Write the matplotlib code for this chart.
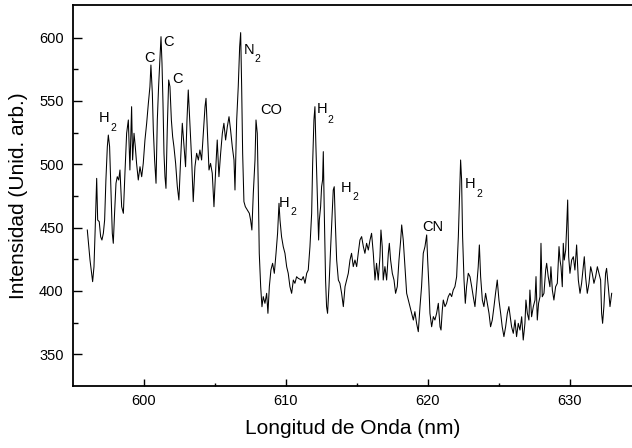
import matplotlib
matplotlib.use("Agg")
import matplotlib.pyplot as plt
from matplotlib.ticker import FixedLocator

plt.rcParams['font.family'] = ['Liberation Sans', 'DejaVu Sans']

# Spectrum: wavelength (nm) and intensity (arb. units)
wavelength = [
    596.01, 596.20, 596.31, 596.385, 596.48, 596.57, 596.67, 596.74, 596.85, 596.95,
    597.04, 597.14, 597.23, 597.32, 597.42, 597.49, 597.58, 597.68, 597.77, 597.84,
    597.93, 598.03, 598.12, 598.22, 598.31, 598.43, 598.55, 598.66, 598.78, 598.90,
    599.01, 599.13, 599.20, 599.30, 599.39, 599.48, 599.60, 599.72, 599.84, 599.95,
    600.07, 600.19, 600.31, 600.42, 600.49, 600.59, 600.66, 600.75, 600.85, 600.94,
    601.03, 601.13, 601.20, 601.27, 601.34, 601.41, 601.48, 601.55, 601.64, 601.74,
    601.83, 601.93, 602.02, 602.11, 602.23, 602.35, 602.46, 602.58, 602.70, 602.82,
    602.93, 603.03, 603.12,
    603.36, 603.47, 603.59, 603.71, 603.83, 603.94, 604.06, 604.18, 604.30, 604.37,
    604.46, 604.58, 604.69, 604.81, 604.93, 605.05, 605.16, 605.28, 605.40, 605.52,
    605.63, 605.75, 605.87, 605.99, 606.10, 606.22, 606.34, 606.41, 606.53, 606.64,
    606.74, 606.81, 606.88, 606.95, 607.04, 607.14, 607.28, 607.42, 607.51, 607.60,
    607.70, 607.82, 607.89, 607.98, 608.05, 608.12, 608.22, 608.31, 608.40, 608.52,
    608.64, 608.73, 608.83, 608.94, 609.06, 609.18, 609.30, 609.41, 609.51, 609.58,
    609.69, 609.81, 609.93, 610.05, 610.16, 610.28, 610.40, 610.52, 610.63, 610.75,
    610.87,
    611.10, 611.22, 611.34, 611.46, 611.57, 611.69, 611.81, 611.88, 611.97, 612.04,
    612.11, 612.21, 612.30, 612.35, 612.44, 612.51, 612.58, 612.63, 612.70, 612.79,
    612.86, 612.93, 613.03, 613.15, 613.26, 613.33, 613.40, 613.47, 613.57, 613.69,
    613.80, 613.92, 614.04, 614.16, 614.27, 614.39, 614.51, 614.62, 614.74, 614.86,
    614.98, 615.09, 615.21, 615.33, 615.45, 615.56, 615.68, 615.80, 615.92, 616.03,
    616.15, 616.27, 616.38, 616.50, 616.62, 616.69, 616.78, 616.85, 616.97, 617.09,
    617.21, 617.28, 617.37, 617.49, 617.61, 617.72, 617.84, 617.96, 618.08, 618.15,
    618.26, 618.38, 618.50, 618.62,
    618.97, 619.08, 619.20, 619.32, 619.44, 619.55, 619.67, 619.79, 619.91, 619.98,
    620.07, 620.14, 620.26, 620.38, 620.49, 620.61, 620.73, 620.85, 620.92, 621.01,
    621.08, 621.20, 621.31, 621.43, 621.55, 621.67, 621.78, 621.90, 622.02, 622.14,
    622.21, 622.30, 622.37, 622.44, 622.54, 622.63, 622.72, 622.84, 622.96, 623.08,
    623.19, 623.31, 623.43, 623.54, 623.62, 623.71, 623.83, 623.94, 624.06, 624.18,
    624.30, 624.41, 624.53, 624.65, 624.76, 624.88, 625.00, 625.12, 625.23, 625.35,
    625.47, 625.59, 625.70,
    625.89, 626.01, 626.13, 626.24, 626.36, 626.48, 626.60, 626.71, 626.83, 626.90,
    627.00, 627.11, 627.18, 627.30, 627.42, 627.54, 627.61, 627.70, 627.79, 627.89,
    627.96, 628.05, 628.17, 628.29, 628.36, 628.47, 628.59, 628.66, 628.76, 628.87,
    628.99, 629.11, 629.23, 629.30, 629.37, 629.46, 629.53, 629.60, 629.70, 629.77,
    629.84, 629.91, 630.00, 630.12, 630.24, 630.35, 630.47, 630.59, 630.71, 630.82,
    630.94, 631.01, 631.10, 631.22, 631.34, 631.46, 631.57, 631.69, 631.81, 631.93,
    632.04, 632.16, 632.23, 632.30, 632.39, 632.51, 632.58, 632.70, 632.82, 632.94,
]

intensity = [
    448.1, 424.4, 413.9, 407.3, 419.1, 450.7, 488.9, 456.0, 454.7, 442.8,
    440.2, 445.5, 456.0, 487.6, 513.9, 523.1, 513.9, 477.1, 445.5, 437.6,
    461.3, 485.0, 490.2, 487.6, 495.5, 466.5, 461.3, 492.9, 524.5, 535.0,
    495.5, 545.5, 503.4, 524.5, 513.9, 500.7, 487.6, 498.1, 490.2, 500.7,
    519.2, 532.4, 548.2, 561.3, 578.4, 556.1, 527.1, 503.4, 485.0, 535.0,
    561.3, 585.0, 600.8, 579.8, 548.2, 508.7, 490.2, 481.0, 527.1, 566.6,
    561.3, 535.0, 521.8, 513.9, 500.7, 482.3, 471.8, 503.4, 532.4, 513.9,
    498.1, 535.0, 558.7,
    503.4, 470.5, 498.1, 508.7, 503.4, 511.3, 503.4, 524.5, 545.5, 552.1,
    527.1, 495.5, 500.7, 492.9, 466.5, 495.5, 519.2, 490.2, 508.7, 524.5,
    532.4, 519.2, 529.7, 537.6, 527.1, 513.9, 503.4, 479.7, 535.0, 561.3,
    592.9, 604.0, 561.3, 508.7, 470.5, 466.5, 463.9, 461.3, 456.0, 448.1,
    477.1, 503.4, 535.0, 524.5, 482.3, 429.7, 403.4, 387.5, 395.5, 390.2,
    398.1, 382.3, 403.4, 416.5, 421.8, 413.9, 429.7, 445.5, 469.2, 456.0,
    442.8, 434.9, 429.7, 419.1, 413.9, 403.4, 398.1, 408.6, 406.0, 411.2,
    409.9,
    408.6, 411.3, 406.0, 413.9, 416.5, 435.0, 461.3, 500.8, 535.0, 545.5,
    514.0, 474.4, 440.2, 456.0, 466.5, 482.3, 487.6, 510.0, 461.3, 408.6,
    387.6, 382.3, 403.4, 435.0, 461.3, 479.7, 482.3, 456.0, 424.4, 408.6,
    406.0, 398.1, 387.6, 403.4, 408.6, 413.9, 424.4, 429.7, 419.2, 424.4,
    419.2, 429.7, 440.2, 442.9, 435.0, 429.7, 437.6, 432.3, 440.2, 445.5,
    429.7, 408.6, 421.8, 408.6, 427.1, 448.1, 435.0, 408.6, 419.2, 408.6,
    429.7, 437.6, 424.4, 413.9, 408.6, 398.1, 403.4, 424.4, 440.2, 452.1,
    440.2, 419.2, 398.1, 392.8,
    377.0, 383.6, 374.4, 367.8, 387.6, 403.4, 429.7, 435.0, 444.2, 424.4,
    403.4, 382.3, 371.7, 379.7, 377.0, 382.3, 390.2, 371.7, 369.1, 384.9,
    392.8, 387.6, 390.2, 395.5, 398.1, 395.5, 400.7, 403.4, 411.2, 442.8,
    469.2, 503.4, 487.6, 442.8, 408.6, 390.2, 403.4, 413.9, 411.2, 403.4,
    395.5, 387.6, 403.4, 419.1, 436.3, 411.2, 392.8, 387.6, 398.1, 390.2,
    382.3, 371.7, 377.0, 387.6, 398.1, 408.6, 392.8, 382.3, 371.7, 363.9,
    371.7, 382.3, 387.6,
    371.7, 366.5, 377.0, 363.9, 374.4, 369.1, 379.6, 361.2, 374.4, 392.8,
    382.3, 377.0, 400.7, 379.6, 387.6, 392.8, 411.3, 377.0, 390.2, 395.4,
    437.6, 395.4, 398.1, 416.5, 421.8, 411.3, 403.3, 419.1, 400.7, 392.8,
    403.3, 406.0, 435.0, 424.4, 419.1, 403.3, 437.6, 424.4, 432.3, 450.7,
    471.8, 427.0, 413.9, 424.4, 427.0, 416.5, 436.3, 408.6, 398.1, 406.0,
    419.1, 427.0, 411.3, 398.1, 406.0, 419.1, 413.9, 406.0, 411.3, 419.1,
    413.9, 408.6, 382.3, 374.4, 387.6, 413.9, 417.8, 403.3, 387.6, 398.1,
]

# Peak labels: (text, x, baseline y) and subscript '2' positions
main_labels = ["H", "C", "C", "C", "N", "CO", "H", "H", "H", "CN", "H"]
main_x = [597.22, 600.39, 601.71, 602.37, 607.43, 608.99, 609.89, 612.54, 614.25, 620.35, 622.99]
main_y = [533.7, 581.0, 593.4, 564.5, 587.1, 539.5, 466.0, 540.3, 478.4, 447.6, 481.0]
sub_x = [597.82, 608.01, 610.49, 613.12, 614.86, 623.61]
sub_y = [526.5, 581.0, 460.0, 532.9, 471.8, 473.9]

xticks = [600, 610, 620, 630]
xminor = [605, 615, 625]
yticks = [350, 400, 450, 500, 550, 600]
yminor = [375, 425, 475, 525, 575]

fig = plt.figure(figsize=(6.32, 4.48), dpi=100)
ax = fig.add_axes([0.1150, 0.1384, 0.8850, 0.8504])

ax.plot(wavelength, intensity, color='black', lw=0.75)

ax.set_xlim(594.98, 634.37)
ax.set_ylim(324.9, 625.8)

ax.xaxis.set_major_locator(FixedLocator(xticks))
ax.xaxis.set_minor_locator(FixedLocator(xminor))
ax.yaxis.set_major_locator(FixedLocator(yticks))
ax.yaxis.set_minor_locator(FixedLocator(yminor))

ax.tick_params(axis='both', which='both', direction='in', labelsize=10.5, width=1.0)
ax.tick_params(axis='x', which='major', length=5, pad=5.5)
ax.tick_params(axis='x', which='minor', length=2.5)
ax.tick_params(axis='y', which='major', length=6.5, pad=6.5)
ax.tick_params(axis='y', which='minor', length=3.4)

for side in ['left', 'bottom', 'top']:
    ax.spines[side].set_linewidth(1.3)
ax.spines['right'].set_visible(False)

ax.set_xlabel("Longitud de Onda (nm)", fontsize=15)
ax.set_ylabel("Intensidad (Unid. arb.)", fontsize=15)
ax.xaxis.set_label_coords(0.5, -0.0866)
ax.yaxis.set_label_coords(-0.079, 0.5)

for t, x, y in zip(main_labels, main_x, main_y):
    ax.text(x, y, t, fontsize=10.5, ha='center', va='baseline')
for x, y in zip(sub_x, sub_y):
    ax.text(x, y, "2", fontsize=7.5, ha='center', va='baseline')

fig.savefig("out.png", dpi=100)
